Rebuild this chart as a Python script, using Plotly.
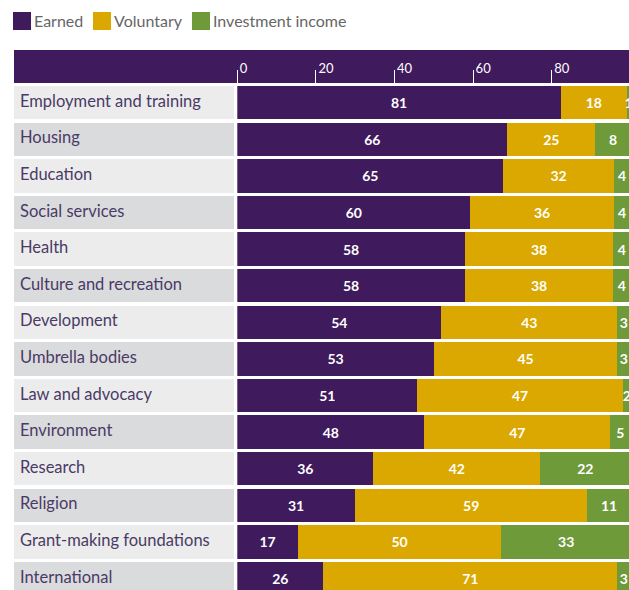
import plotly.graph_objects as go

# ---- data ----
categories = [
    "Employment and training", "Housing", "Education", "Social services", "Health",
    "Culture and recreation", "Development", "Umbrella bodies", "Law and advocacy",
    "Environment", "Research", "Religion", "Grant-making foundations", "International",
]
series_names = ["Earned", "Voluntary", "Investment income"]
# bar lengths (%) as drawn
earned = [82.3, 68.7, 67.7, 59.3, 57.9, 57.9, 51.9, 50.0, 45.8, 47.6, 34.6, 29.9, 15.4, 21.9]
voluntary = [16.8, 22.4, 28.1, 36.5, 37.8, 37.8, 44.8, 46.7, 52.3, 47.3, 42.5, 59.2, 51.8, 74.8]
investment = [1.0, 9.0, 4.2, 4.2, 4.3, 4.3, 3.3, 3.3, 2.0, 5.1, 22.9, 11.0, 33.0, 3.3]
# printed labels
earned_lbl = [81, 66, 65, 60, 58, 58, 54, 53, 51, 48, 36, 31, 17, 26]
voluntary_lbl = [18, 25, 32, 36, 38, 38, 43, 45, 47, 47, 42, 59, 50, 71]
investment_lbl = [1, 8, 4, 4, 4, 4, 3, 3, 2, 5, 22, 11, 33, 3]
tick_values = [0, 20, 40, 60, 80]

# ---- style ----
W, H = 629, 590
PURPLE = "#3f1a5c"
YELLOW = "#daa800"
GREEN = "#6e9a3a"
CELL_LIGHT = "#ececec"
CELL_DARK = "#dadbdd"
LABEL_COL = "#4a3a66"
FONT = "Lato"
BAR_W = 0.915

fig = go.Figure()

# label cells behind category names
fig.add_trace(go.Bar(
    y=categories, x=[1] * len(categories), orientation="h",
    xaxis="x2", yaxis="y", width=BAR_W,
    marker=dict(color=[CELL_LIGHT if i % 2 == 0 else CELL_DARK for i in range(len(categories))],
                line=dict(width=0)),
    hoverinfo="skip", showlegend=False,
))

for vals, lbls, col, name in [
    (earned, earned_lbl, PURPLE, series_names[0]),
    (voluntary, voluntary_lbl, YELLOW, series_names[1]),
    (investment, investment_lbl, GREEN, series_names[2]),
]:
    fig.add_trace(go.Bar(
        y=categories, x=vals, orientation="h", name=name, width=BAR_W,
        marker=dict(color=col, line=dict(width=0)),
        text=[str(v) for v in lbls], textposition="inside", insidetextanchor="middle",
        textangle=0, constraintext="none",
        textfont=dict(family=FONT, size=14, color="white", weight="bold"),
        showlegend=False,
    ))

x0_px, x_scale = 237.3, 3.93
top_px = 84
row_pitch = 36.6
first_center = 102.7

fig.update_layout(
    width=W, height=H,
    margin=dict(l=0, r=0, t=0, b=0),
    paper_bgcolor="white", plot_bgcolor="rgba(0,0,0,0)",
    barmode="stack",
    font=dict(family=FONT),
    xaxis=dict(
        domain=[x0_px / W, 1], range=[0, (W - x0_px) / x_scale],
        side="top", tickvals=tick_values, ticks="outside", ticklen=13,
        tickcolor="white", tickwidth=1, ticklabelposition="outside right",
        ticklabelstandoff=5, ticklabelshift=2,
        tickfont=dict(family=FONT, size=13, color="white"),
        showgrid=False, zeroline=False, showline=False, fixedrange=True,
    ),
    xaxis2=dict(
        domain=[14 / W, 234 / W], range=[0, 1], anchor="y",
        visible=False, fixedrange=True,
    ),
    yaxis=dict(
        type="category", categoryorder="array", categoryarray=categories,
        domain=[0, 1 - top_px / H],
        range=[(H - first_center) / row_pitch, (top_px - first_center) / row_pitch],
        showticklabels=False, showgrid=False, zeroline=False, ticks="", fixedrange=True,
    ),
    showlegend=False,
)

shapes = [
    # header bar
    dict(type="rect", xref="paper", yref="paper", x0=14 / W, x1=1,
         y0=1 - 83 / H, y1=1 - 50 / H, fillcolor=PURPLE, line=dict(width=0), layer="below"),
]
annotations = []

# category labels
for c in categories:
    annotations.append(dict(
        x=18 / W, xref="paper", y=c, yref="y", xanchor="left", yanchor="middle",
        text=c, showarrow=False, yshift=2,
        font=dict(family=FONT, size=16.5, color=LABEL_COL),
    ))

# legend (manual)
leg_x = [13, 93, 192]
for name, col, lx in zip(series_names, [PURPLE, YELLOW, GREEN], leg_x):
    shapes.append(dict(type="rect", xref="paper", yref="paper",
                       x0=lx / W, x1=(lx + 18) / W, y0=1 - 30 / H, y1=1 - 12 / H,
                       fillcolor=col, line=dict(width=0)))
    annotations.append(dict(
        x=(lx + 19) / W, xref="paper", y=1 - 21 / H, yref="paper",
        xanchor="left", yanchor="middle", text=name, showarrow=False,
        font=dict(family=FONT, size=16, color="#666666"),
    ))

fig.update_layout(shapes=shapes, annotations=annotations)
fig.write_html("out.html")
